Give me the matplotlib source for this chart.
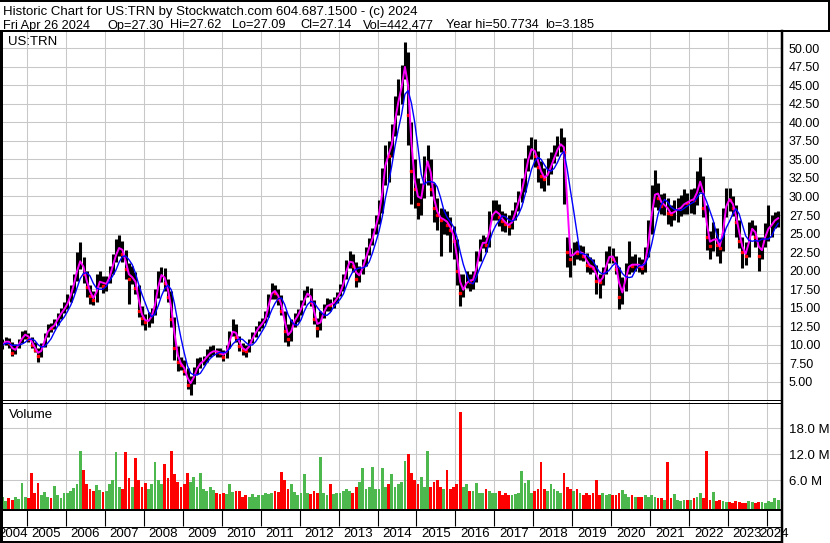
import matplotlib
matplotlib.use("Agg")
import matplotlib.pyplot as plt
from matplotlib.lines import Line2D
import numpy as np
import pandas as pd

# monthly data, Apr 2004 .. Apr 2024
close = [
    9.7, 10.2, 10.6, 10.2, 8.9, 9.7, 10.3, 11.3, 11.4,
    10.8, 10.0, 9.3, 8.5, 9.8, 11.2, 12.3, 12.2, 13.0, 13.8, 14.5, 15.0,
    16.0, 17.3, 18.8, 21.0, 21.5, 19.5, 17.8, 16.6, 16.0, 18.2, 18.8, 17.9,
    18.5, 19.8, 21.3, 22.8, 23.3, 22.3, 20.2, 18.8, 19.4, 17.6, 14.6, 13.6,
    13.0, 13.4, 14.2, 16.5, 19.0, 19.8, 18.3, 16.5, 13.5, 9.6, 7.6, 7.3,
    6.4, 4.6, 5.0, 6.2, 7.3, 7.6, 8.0, 8.7, 9.0, 9.2, 9.0, 8.9,
    8.4, 9.6, 11.3, 12.2, 11.0, 9.8, 9.3, 9.2, 10.3, 11.2, 12.0, 12.6,
    13.0, 14.0, 16.3, 17.5, 17.0, 16.2, 14.5, 11.8, 10.8, 12.8, 13.6, 14.2,
    15.4, 16.6, 17.2, 15.8, 13.4, 12.2, 13.8, 14.9, 15.5, 15.3, 15.9, 16.5,
    17.4, 19.0, 20.8, 21.6, 20.6, 18.9, 19.8, 20.9, 22.6, 23.6, 25.0, 26.8,
    28.5, 32.5, 35.8, 35.5, 38.5, 42.0, 43.5, 46.0, 49.0, 41.0, 33.5, 31.0,
    29.0, 30.5, 34.0, 35.5, 31.0, 28.5, 27.5, 26.8, 27.0, 26.2, 25.5, 24.0,
    20.0, 17.0, 17.8, 18.8, 18.5, 19.0, 21.5, 23.5, 24.0, 23.5, 27.0, 28.0,
    28.0, 27.3, 26.7, 26.3, 26.0, 27.0, 28.5, 30.0, 31.5, 34.0, 36.0, 36.8,
    35.5, 34.0, 32.8, 32.3, 33.5, 34.5, 35.8, 36.8, 37.3, 36.0, 22.5, 21.5,
    22.8, 22.4, 22.6, 22.0, 20.8, 20.6, 20.4, 18.6, 18.4, 19.7, 21.5, 22.2,
    21.6, 20.2, 16.5, 17.6, 20.0, 21.0, 20.6, 21.0, 20.6, 20.3, 22.0, 25.5,
    29.5, 31.0, 29.8, 28.7, 29.0, 27.8, 27.6, 28.2, 28.3, 28.6, 29.3, 29.1,
    29.8, 29.5, 31.5, 32.5, 28.5, 24.5, 23.3, 25.0, 23.5, 23.0, 27.5, 29.8,
    29.5, 28.5, 26.5, 24.0, 22.5, 22.0, 25.5, 25.8, 24.5, 22.0, 23.5, 25.5,
    25.8, 26.5, 27.0, 27.14,
]
high = [
    10.3, 10.7, 11.1, 10.9, 10.3, 10.1, 10.7, 11.8, 12.0,
    11.6, 11.0, 10.3, 9.6, 10.2, 11.6, 12.8, 12.9, 13.5, 14.3, 15.0, 15.8,
    16.8, 18.0, 19.6, 22.5, 23.8, 21.8, 19.9, 18.0, 17.3, 19.5, 20.0, 19.3,
    19.3, 20.6, 22.2, 24.2, 24.8, 24.0, 22.8, 21.0, 20.6, 19.8, 18.0, 15.2,
    14.2, 14.4, 15.0, 17.5, 20.0, 20.5, 20.3, 18.9, 17.2, 13.8, 9.8, 8.4,
    7.9, 6.8, 5.8, 7.0, 8.2, 8.3, 8.5, 9.4, 9.8, 9.9, 9.6, 9.5,
    9.3, 10.0, 11.8, 13.5, 12.8, 11.2, 10.2, 10.0, 10.8, 11.7, 12.5, 13.2,
    13.6, 14.5, 16.8, 18.3, 18.1, 17.5, 16.7, 14.6, 12.8, 13.5, 14.3, 14.8,
    16.0, 17.4, 17.9, 17.6, 16.0, 13.6, 14.5, 15.5, 16.3, 16.1, 16.4, 17.1,
    18.2, 19.6, 21.4, 22.7, 22.3, 21.2, 20.6, 21.6, 23.2, 24.4, 25.8, 27.5,
    29.5, 33.8, 37.0, 37.5, 39.8, 43.5, 45.8, 47.8, 50.8, 49.5, 40.0, 35.0,
    32.5, 31.8, 35.5, 37.0, 35.0, 31.8, 29.8, 28.5, 28.3, 28.0, 27.2, 26.0,
    24.2, 19.5, 19.5, 20.0, 19.6, 20.0, 22.6, 24.3, 24.8, 24.5, 28.0, 29.5,
    29.5, 29.0, 28.0, 27.8, 27.5, 28.2, 29.3, 30.8, 32.5, 35.2, 37.0, 38.0,
    37.8, 36.2, 34.8, 33.8, 35.2, 36.0, 37.0, 38.2, 39.2, 38.0, 24.5, 23.0,
    23.8, 24.0, 23.5, 23.3, 22.4, 21.8, 21.5, 20.8, 19.6, 20.5, 22.6, 23.3,
    23.0, 22.0, 20.5, 19.2, 21.0, 24.0, 22.0, 22.3, 21.8, 21.5, 23.2, 26.8,
    31.5, 33.6, 31.8, 30.3, 30.5, 29.8, 28.8, 29.5, 29.8, 30.2, 31.0, 30.5,
    31.0, 31.2, 33.5, 35.3, 32.8, 28.8, 25.3, 26.5, 25.8, 24.2, 28.4, 31.2,
    31.2, 30.0, 28.8, 26.8, 24.6, 23.8, 26.6, 26.8, 26.2, 24.6, 24.6, 26.4,
    28.8, 27.5, 27.9, 28.0,
]
low = [
    9.1, 9.4, 10.0, 9.6, 8.5, 8.8, 9.6, 10.2, 10.8,
    10.4, 9.6, 9.0, 7.7, 8.4, 9.7, 11.0, 11.7, 12.1, 12.6, 13.5, 14.3,
    14.8, 15.8, 17.0, 18.6, 20.2, 18.3, 16.5, 15.5, 15.3, 15.8, 17.8, 17.0,
    17.3, 18.3, 19.6, 21.2, 22.0, 21.2, 18.8, 15.5, 18.2, 16.8, 13.8, 12.6,
    12.0, 12.4, 12.9, 14.0, 16.3, 18.5, 17.2, 15.8, 12.4, 7.9, 6.4, 6.6,
    5.9, 4.0, 3.2, 4.7, 6.0, 6.8, 7.2, 7.7, 8.4, 8.6, 8.4, 8.3,
    7.8, 8.2, 9.6, 11.2, 10.3, 9.1, 8.6, 8.4, 9.0, 10.2, 11.1, 11.8,
    12.3, 12.9, 13.8, 16.2, 16.1, 15.4, 14.0, 10.3, 9.8, 10.5, 12.4, 13.1,
    14.0, 15.3, 16.4, 15.2, 12.8, 11.1, 12.0, 13.6, 14.6, 14.5, 15.0, 15.6,
    16.6, 17.2, 18.8, 20.3, 19.8, 17.8, 18.4, 19.5, 20.6, 22.1, 23.4, 25.0,
    26.3, 27.8, 31.5, 32.0, 35.3, 38.2, 41.0, 42.5, 45.8, 37.0, 29.0, 28.4,
    27.0, 27.5, 29.8, 31.5, 30.0, 26.5, 25.5, 22.0, 25.0, 24.8, 22.5, 21.5,
    18.0, 15.2, 16.5, 17.6, 17.2, 17.5, 18.5, 21.3, 23.0, 22.5, 23.2, 26.8,
    26.8, 26.0, 25.3, 25.2, 24.8, 25.6, 26.8, 28.0, 29.2, 30.6, 33.5, 35.0,
    34.0, 32.0, 31.2, 30.8, 31.5, 33.0, 34.5, 35.5, 36.0, 29.0, 20.5, 19.2,
    20.8, 21.6, 21.4, 21.3, 19.8, 19.6, 19.8, 16.8, 16.3, 18.0, 19.6, 21.0,
    21.0, 19.5, 14.8, 15.5, 17.3, 19.6, 19.8, 20.0, 19.8, 19.5, 19.8, 21.8,
    25.0, 28.6, 28.2, 27.6, 27.5, 26.3, 26.0, 26.8, 26.5, 27.4, 27.6, 27.7,
    27.8, 27.6, 28.8, 30.6, 27.2, 22.8, 21.5, 22.6, 22.0, 21.0, 22.6, 27.2,
    28.0, 27.4, 24.6, 23.0, 20.3, 20.8, 21.8, 24.8, 23.2, 20.0, 21.5, 23.2,
    24.0, 24.5, 25.8, 25.9,
]
volume_m = [
    1.5, 2.0, 1.2, 1.8, 1.5, 2.2, 1.6, 5.3, 2.0,
    1.8, 7.6, 3.0, 5.3, 2.5, 3.2, 2.0, 1.8, 4.6, 2.5, 1.8, 3.0,
    3.0, 3.5, 4.2, 5.0, 12.7, 8.3, 5.0, 4.0, 3.5, 4.8, 3.8, 3.2,
    3.5, 5.0, 6.0, 12.4, 4.5, 4.0, 12.4, 6.5, 4.5, 11.0, 6.0, 4.5,
    5.3, 4.0, 5.0, 10.3, 6.0, 5.0, 9.8, 6.5, 12.7, 7.4, 5.5, 4.5,
    5.0, 7.7, 5.5, 6.7, 4.5, 7.7, 4.0, 3.5, 4.5, 3.8, 3.0, 2.8,
    3.0, 2.8, 5.0, 3.2, 3.5, 3.5, 2.2, 2.5, 2.0, 2.8, 2.0, 2.5,
    2.5, 3.0, 2.8, 3.0, 3.5, 3.2, 7.9, 6.0, 4.0, 5.0, 3.2, 2.5,
    3.0, 7.4, 3.0, 2.8, 3.5, 3.0, 11.3, 3.0, 2.5, 5.1, 2.8, 3.0,
    3.0, 3.5, 4.0, 3.5, 3.0, 4.5, 5.5, 8.9, 4.0, 4.5, 9.0, 4.0,
    4.0, 8.7, 4.5, 5.0, 7.4, 4.5, 5.0, 5.5, 10.5, 12.0, 7.6, 6.0,
    5.0, 6.8, 4.5, 12.7, 4.5, 5.5, 6.0, 4.5, 4.0, 8.3, 4.0, 4.5,
    5.0, 21.7, 4.5, 5.0, 3.5, 3.5, 5.3, 3.0, 3.0, 4.0, 3.5, 3.0,
    3.0, 3.5, 2.5, 3.0, 2.5, 2.5, 2.8, 3.0, 8.1, 5.3, 6.0, 3.0,
    3.5, 4.0, 10.1, 4.0, 3.5, 5.0, 4.0, 3.5, 3.0, 7.6, 4.5, 4.0,
    3.5, 4.0, 3.0, 2.5, 3.0, 2.5, 3.0, 6.0, 2.5, 3.0, 2.5, 2.8,
    2.5, 2.5, 3.0, 3.7, 2.8, 2.0, 2.5, 2.0, 2.2, 2.0, 2.5, 2.0,
    2.5, 2.0, 1.8, 1.8, 1.5, 10.3, 1.8, 2.7, 1.5, 1.2, 1.5, 1.5,
    1.5, 1.8, 2.0, 2.9, 1.8, 12.7, 1.5, 3.2, 1.2, 1.5, 1.2, 1.0,
    1.0, 0.8, 1.2, 0.9, 0.7, 0.8, 1.1, 0.9, 0.8, 1.0, 0.9, 0.8,
    1.2, 1.0, 1.9, 1.5,
]

price_ticks = np.arange(5, 50.1, 2.5)
vol_ticks = [6, 12, 18]
years = list(range(2004, 2025))

W, H = 830, 543
GRID = "#c8c8c8"; GREEN = "#4db84d"; RED = "#ff0000"
plt.rcParams["font.family"] = ["Liberation Sans", "DejaVu Sans"]
plt.rcParams["font.size"] = 9


def rect(x, y, w, h):
    return [x / W, 1 - (y + h) / H, w / W, h / H]


def pline(fig, xs, ys, lw=1.0):
    fig.add_artist(Line2D([x / W for x in xs], [1 - y / H for y in ys],
                          transform=fig.transFigure, color="black", lw=lw * 0.72))


months = pd.date_range("2004-04-01", "2024-04-01", freq="MS") + pd.Timedelta(days=14)
c = pd.Series(close, index=months)
ma_fast = c.rolling(2, min_periods=1).mean()
ma_slow = c.rolling(5, min_periods=1).mean()
down = c.diff().fillna(0) < 0
vol_colors = [RED if d else GREEN for d in down]

xmin, xmax = pd.Timestamp("2004-04-23"), pd.Timestamp("2024-05-21")
year_starts = [pd.Timestamp(f"{y}-01-01") for y in years[1:]]

fig = plt.figure(figsize=(W / 100, H / 100), dpi=100)
fig.patch.set_facecolor("white")

# ---- price panel
ax = fig.add_axes(rect(0, 31, 782, 369))
ax.vlines(months, low, high, color="black", lw=2.2, zorder=2)
ax.plot(months[down], c[down], ls="none", marker="s", ms=1.6, color=RED, zorder=3)
ax.plot(months, ma_fast, color="#ff00ff", lw=1.4, zorder=4)
ax.plot(months, ma_slow, color="#0000ff", lw=1.0, zorder=5)
ax.set_xlim(xmin, xmax); ax.set_ylim(2.53, 52.34)
ax.set_yticks(price_ticks)
ax.set_yticklabels([f"{v:.2f}" for v in price_ticks])
ax.yaxis.tick_right()
ax.tick_params(axis="y", length=0, pad=5, labelsize=9)
ax.set_xticks(year_starts); ax.tick_params(axis="x", length=0, labelbottom=False)
ax.grid(True, color=GRID, lw=0.75, zorder=0)
for s in ax.spines.values():
    s.set_visible(False)
ax.text(8 / 782, 1 - 11 / 369, "US:TRN", transform=ax.transAxes, va="center", fontsize=9.5)

# ---- volume panel
VOL_FLOOR = -0.69
axv = fig.add_axes(rect(0, 402, 782, 107))
axv.bar(months, np.array(volume_m) - VOL_FLOOR, bottom=VOL_FLOOR, width=26,
        color=vol_colors, lw=0, zorder=2)
axv.set_xlim(xmin, xmax); axv.set_ylim(VOL_FLOOR, 24.07)
axv.set_yticks(vol_ticks); axv.set_yticklabels([f"{v:.1f} M" for v in vol_ticks])
axv.yaxis.tick_right()
axv.tick_params(axis="y", length=0, pad=5, labelsize=9.5)
axv.set_xticks(year_starts); axv.tick_params(axis="x", length=0, labelbottom=False)
axv.grid(True, color=GRID, lw=0.75, zorder=0)
for s in axv.spines.values():
    s.set_visible(False)
axv.text(9 / 782, 1 - 13 / 107, "Volume", transform=axv.transAxes, va="center", fontsize=9.5)

# ---- date row
axd = fig.add_axes(rect(0, 509, 782, 33))
axd.set_xlim(xmin, xmax); axd.set_ylim(0, 1); axd.axis("off")
axd.vlines(year_starts, 0.47, 1, color="black", lw=0.8)
for y in years:
    a = max(pd.Timestamp(f"{y}-01-01"), xmin)
    b = min(pd.Timestamp(f"{y + 1}-01-01"), xmax)
    axd.text(a + (b - a) / 2, 0.23, str(y), ha="center", va="center", fontsize=9.5, clip_on=False)

# ---- frame lines (pixel coordinates)
pline(fig, [0, W], [1, 1], 2)
pline(fig, [0, W], [31, 31], 2)
pline(fig, [W - 1, W - 1], [0, 31], 2)
pline(fig, [1, 1], [31, 542], 3)
pline(fig, [782, 782], [31, 542], 2.5)
pline(fig, [0, 782], [400, 400], 1)
pline(fig, [0, 782], [402.5, 402.5], 1)
pline(fig, [0, 782], [509.5, 509.5], 2)
pline(fig, [0, 782], [526.5, 526.5], 1)
pline(fig, [0, 782], [541.5, 541.5], 2)

# ---- header
fig.text(3 / W, 1 - 14.5 / H, "Historic Chart for US:TRN by Stockwatch.com 604.687.1500 - (c) 2024",
         fontsize=9.5, va="baseline")
for xpix, s in [(3, "Fri Apr 26 2024"), (107, "Op=27.30"), (170, "Hi=27.62"), (232, "Lo=27.09"),
                (300, "Cl=27.14"), (363, "Vol=442,477"), (446, "Year hi=50.7734"), (545, "lo=3.185")]:
    fig.text(xpix / W, 1 - 28.5 / H, s, fontsize=9.2, va="baseline")

fig.savefig("out.png", dpi=100)
